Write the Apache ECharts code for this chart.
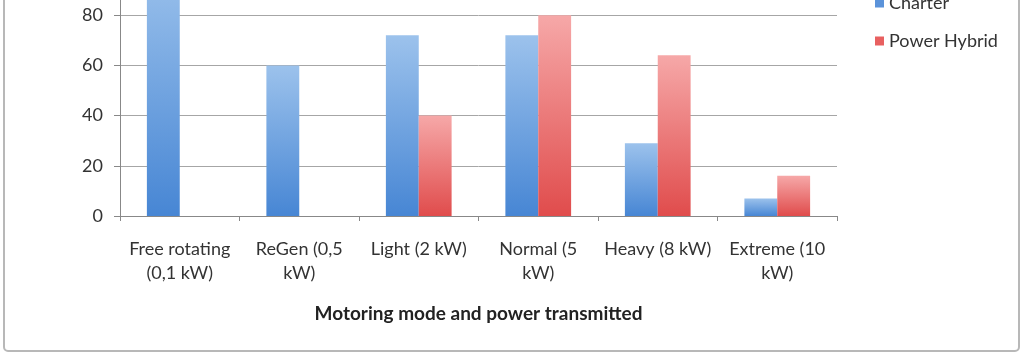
<!DOCTYPE html>
<html>
<head>
<meta charset="utf-8">
<script src="https://cdn.jsdelivr.net/npm/echarts@6/dist/echarts.min.js"></script>
<style>
html,body{margin:0;padding:0;background:#fff;overflow:hidden;}
#wrap{width:1024px;height:355px;overflow:hidden;position:relative;}
#c{width:1024px;height:390px;position:absolute;left:0;top:-35px;}
</style>
</head>
<body>
<div id="wrap"><div id="c"></div></div>
<script>
const categories = ["Free rotating\n(0,1 kW)", "ReGen (0,5\nkW)", "Light (2 kW)", "Normal (5\nkW)", "Heavy (8 kW)", "Extreme (10\nkW)"];
const charter = [100, 60, 72, 72, 29, 7];
const powerHybrid = [null, null, 40, 80, 64, 16];
const seriesNames = ["Charter", "Power Hybrid"];
const xAxisTitle = "Motoring mode and power transmitted";

const font = "Lato, 'Open Sans', sans-serif";
const chart = echarts.init(document.getElementById('c'), null, {renderer: 'canvas'});

function grad(top, bottom) {
  return new echarts.graphic.LinearGradient(0, 0, 0, 1, [
    {offset: 0, color: top}, {offset: 1, color: bottom}
  ]);
}

chart.setOption({
  animation: false,
  backgroundColor: '#fff',
  textStyle: {fontFamily: font},
  graphic: [{
    type: 'rect', z: -10,
    shape: {x: 4, y: 10, width: 1015, height: 376, r: 4},
    style: {fill: '#fff', stroke: '#b8b8b8', lineWidth: 2}
  }],
  legend: {
    orient: 'vertical',
    left: 870, top: 24,
    itemWidth: 9, itemHeight: 9, itemGap: 20,
    icon: 'rect',
    textStyle: {fontFamily: font, fontSize: 18, color: '#333'},
    data: [
      {name: seriesNames[0], itemStyle: {color: '#5b93da'}},
      {name: seriesNames[1], itemStyle: {color: '#e86060'}}
    ]
  },
  grid: {left: 120, right: 187, top: 0, bottom: 139, containLabel: false, outerBoundsMode: 'none'},
  xAxis: {
    type: 'category',
    data: categories,
    name: xAxisTitle,
    nameLocation: 'middle',
    nameGap: 88,
    nameTextStyle: {fontFamily: font, fontSize: 19, fontWeight: 'bold', color: '#222'},
    axisLine: {lineStyle: {color: '#888', width: 1}},
    axisTick: {show: true, length: 5, alignWithLabel: false, lineStyle: {color: '#888'}},
    axisLabel: {fontFamily: font, fontSize: 18, color: '#333', margin: 21, lineHeight: 24, interval: 0}
  },
  yAxis: {
    type: 'value',
    min: 0, max: 100, interval: 20,
    axisLine: {show: true, lineStyle: {color: '#888', width: 1}},
    axisTick: {show: true, length: 6, lineStyle: {color: '#888'}},
    splitLine: {lineStyle: {color: '#a6a6a6', width: 1}},
    axisLabel: {fontFamily: font, fontSize: 18, color: '#333', margin: 17}
  },
  series: [
    {
      name: seriesNames[0], type: 'bar', data: charter,
      barGap: '0%', barCategoryGap: '45%',
      itemStyle: {color: grad('#9cc2ec', '#4786d4')}
    },
    {
      name: seriesNames[1], type: 'bar', data: powerHybrid,
      barGap: '0%', barCategoryGap: '45%',
      itemStyle: {color: grad('#f6a8a8', '#e04c4c')}
    }
  ]
});
</script>
</body>
</html>
